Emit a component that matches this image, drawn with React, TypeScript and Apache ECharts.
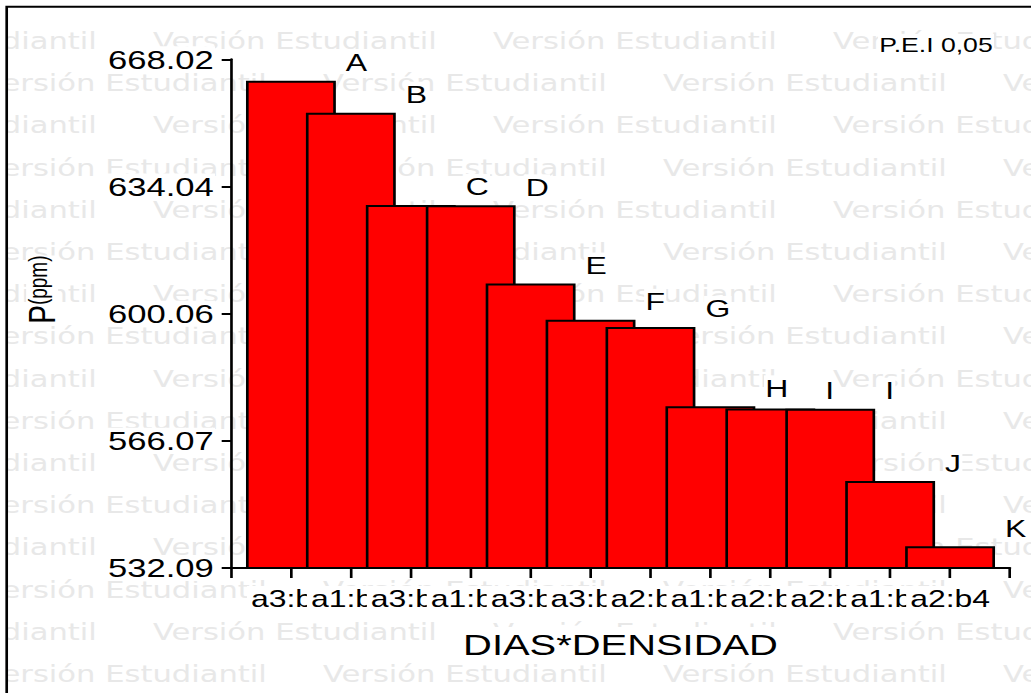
import React, { useEffect, useRef } from 'react';
import * as echarts from 'echarts';

// ---- data ----
const categories = ['a3:b4', 'a1:b4', 'a3:b3', 'a1:b3', 'a3:b2', 'a3:b1', 'a2:b3', 'a1:b2', 'a2:b2', 'a2:b1', 'a1:b1', 'a2:b4'];
const values = [662.3, 653.74, 629.1, 629.0, 608.11, 598.4, 596.5, 575.29, 574.68, 574.65, 555.32, 537.93];
const letters = ['A', 'B', 'C', 'D', 'E', 'F', 'G', 'H', 'I', 'I', 'J', 'K'];
const yTickLabels = ['532.09', '566.07', '600.06', '634.04', '668.02'];
const yMin = 532.09;
const yMax = 668.02;
const xTitle = 'DIAS*DENSIDAD';
const yTitleMain = 'P';
const yTitleUnit = '(ppm)';
const note = 'P.E.I 0,05';
const watermark = 'Versión Estudiantil';

// ---- layout (the picture is horizontally stretched) ----
const SX = 1.3303;
const W = 775;
const H = 693;
const L = (sx: number) => sx / SX;
const FONT = '"Liberation Sans", Arial, sans-serif';

export default function App() {
  const ref = useRef<HTMLDivElement>(null);
  useEffect(() => {
    if (!ref.current) return;
    const chart = echarts.init(ref.current, null, { renderer: 'svg' });

    const axisCats = ['', ...categories, ''];
    const seriesData: any[] = ['-', ...values.map((v, i) => ({ value: v, label: { formatter: letters[i] } })), '-'];

    const graphics: any[] = [];
    for (let k = 0; k < 16; k++) {
      const yc = 41 + 42.2 * k;
      const x0 = k % 2 === 0 ? 153 - 340 : -17;
      for (let n = 0; n < 5; n++) {
        const xs = x0 + 340 * n;
        if (xs > 1040) continue;
        graphics.push({
          type: 'text',
          x: L(xs),
          y: yc,
          z: -1,
          silent: true,
          style: {
            text: watermark,
            fill: '#e8e8e8',
            fontSize: 23,
            fontFamily: '"DejaVu Sans", Verdana, sans-serif',
            align: 'left',
            verticalAlign: 'middle',
          },
        });
      }
    }
    // white margin outside the frame
    graphics.push({
      type: 'rect', z: 5, silent: true,
      shape: { x: -2, y: -2, width: L(6.7) + 2, height: H + 4 },
      style: { fill: '#fff' },
    });
    graphics.push({
      type: 'rect', z: 5, silent: true,
      shape: { x: -2, y: -2, width: W + 4, height: 6.7 + 2 },
      style: { fill: '#fff' },
    });
    graphics.push({
      type: 'text',
      x: L(994),
      y: 45,
      z: 10,
      silent: true,
      style: {
        text: note,
        fill: '#000',
        fontSize: 20,
        fontFamily: FONT,
        align: 'right',
        verticalAlign: 'middle',
        backgroundColor: '#fff',
        padding: [1, 1],
      },
    });
    graphics.push({
      type: 'rect',
      z: 10,
      silent: true,
      shape: { x: L(6.7), y: 6.7, width: 900, height: 800 },
      style: { fill: 'transparent', stroke: '#000', lineWidth: 2 },
    });

    const barHalf = (1.5 * (L(1010) - L(231))) / 13 / 2;

    chart.setOption({
      animation: false,
      backgroundColor: '#fff',
      grid: {
        left: L(231),
        right: W - L(1010),
        top: 59.3,
        bottom: H - 568,
        containLabel: false,
        outerBoundsMode: 'none',
      },
      graphic: graphics,
      xAxis: {
        type: 'category',
        data: axisCats,
        boundaryGap: false,
        name: xTitle,
        nameLocation: 'middle',
        nameGap: 59,
        nameTextStyle: {
          fontSize: 30,
          fontFamily: FONT,
          color: '#000',
          backgroundColor: '#fff',
          padding: [2, 8],
        },
        axisLine: { show: true, lineStyle: { color: '#000', width: 2 } },
        axisTick: { show: true, interval: 0, length: 10, lineStyle: { color: '#000', width: 2 } },
        axisLabel: {
          interval: 0,
          fontSize: 24,
          fontFamily: FONT,
          color: '#000',
          margin: 18,
          backgroundColor: '#fff',
          padding: [0, 3],
        },
        splitLine: { show: false },
      },
      yAxis: {
        type: 'value',
        min: yMin,
        max: yMax,
        interval: (yMax - yMin) / 4,
        name: `{p|${yTitleMain}}{q|${yTitleUnit}}`,
        nameLocation: 'middle',
        nameRotate: 90,
        nameGap: 128,
        nameTextStyle: {
          padding: [0, 0, 0, 48],
          rich: {
            p: { fontSize: 28, fontFamily: FONT, color: '#000', backgroundColor: '#fff' },
            q: { fontSize: 19, fontFamily: FONT, color: '#000', backgroundColor: '#fff', padding: [0, 0, 5, 0] },
          },
        },
        axisLine: { show: true, lineStyle: { color: '#000', width: 2 } },
        axisTick: { show: true, length: 7, lineStyle: { color: '#000', width: 2 } },
        axisLabel: {
          fontSize: 26,
          fontFamily: FONT,
          color: '#000',
          margin: 12,
          backgroundColor: '#fff',
          padding: [0, 1],
          formatter: (v: number, idx: number) => yTickLabels[idx] ?? v.toFixed(2),
        },
        splitLine: { show: false },
      },
      series: [
        {
          type: 'bar',
          data: seriesData,
          barWidth: '150%',
          clip: true,
          itemStyle: { color: '#ff0000', borderColor: '#000', borderWidth: 2 },
          label: {
            show: true,
            position: 'top',
            distance: 5,
            align: 'left',
            offset: [barHalf + L(10) - 1, 0],
            fontSize: 24,
            fontFamily: FONT,
            color: '#000',
            backgroundColor: '#fff',
            padding: [1, 1],
          },
        },
      ],
    });
    return () => chart.dispose();
  }, []);

  return (
    <div style={{ position: 'absolute', left: 0, top: 0, width: 1031, height: 693, overflow: 'hidden', background: '#fff' }}>
      <div
        ref={ref}
        style={{ width: W, height: H, transform: `scaleX(${SX})`, transformOrigin: '0 0' }}
      />
    </div>
  );
}
